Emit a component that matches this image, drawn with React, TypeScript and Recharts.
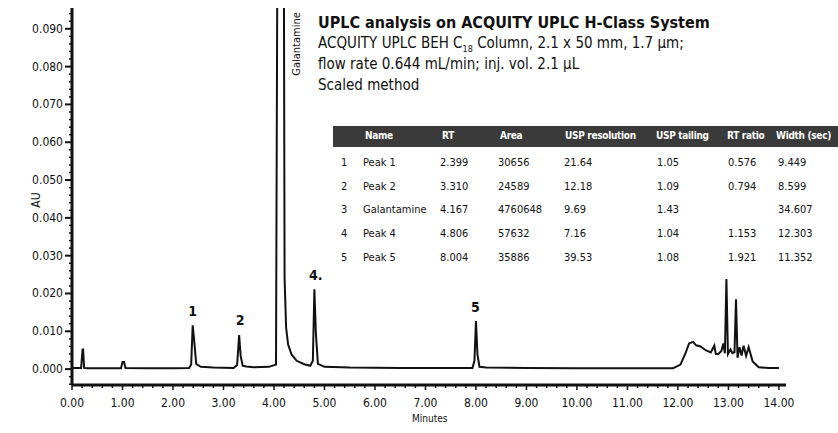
import React from 'react'
import { LineChart, Line, XAxis, YAxis, ReferenceDot } from 'recharts'

// chromatogram trace (minutes, AU)
const times = [
  0.0, 0.18, 0.21, 0.22, 0.24, 0.3, 0.6, 0.97, 1.0, 1.03, 1.06, 1.5, 2.0, 2.32, 2.36, 2.39, 2.42, 2.46,
  2.55, 2.8, 3.2, 3.27, 3.31, 3.34, 3.38, 3.45, 3.6, 3.9, 4.04, 4.09, 4.18, 4.21, 4.24, 4.28, 4.35,
  4.45, 4.6, 4.72, 4.77, 4.8, 4.83, 4.87, 5.0, 5.5, 6.5, 7.5, 7.93, 7.97, 8.0, 8.03, 8.07, 8.2, 9.0,
  10.0, 11.0, 11.9, 12.05, 12.15, 12.22, 12.3, 12.36, 12.45, 12.55, 12.65, 12.72, 12.75, 12.8, 12.86,
  12.9, 12.93, 12.96, 12.99, 13.04, 13.08, 13.12, 13.15, 13.18, 13.22, 13.26, 13.3, 13.35, 13.4, 13.48,
  13.6, 13.8, 14.0,
]
const absorbance = [
  0.0003, 0.0003, 0.0052, 0.0052, 0.0003, 0.0002, 0.0002, 0.0002, 0.0019, 0.0019, 0.0003, 0.0002, 0.0002, 0.0003, 0.0012, 0.0116, 0.0075, 0.0014,
  0.0006, 0.0004, 0.0003, 0.0011, 0.009, 0.0035, 0.0009, 0.0007, 0.0005, 0.0006, 0.0012, 0.2, 0.2, 0.024, 0.011, 0.0065, 0.0038,
  0.0022, 0.0013, 0.0009, 0.0022, 0.0211, 0.0095, 0.0014, 0.0006, 0.0004, 0.0003, 0.0003, 0.0003, 0.0022, 0.0127, 0.0038, 0.0006, 0.0004, 0.0003,
  0.0002, 0.0002, 0.0002, 0.0012, 0.0042, 0.0068, 0.0072, 0.0063, 0.006, 0.005, 0.0044, 0.0062, 0.004, 0.004, 0.0048,
  0.0068, 0.0042, 0.0238, 0.004, 0.0052, 0.0042, 0.0045, 0.0185, 0.003, 0.0058, 0.0036, 0.0062, 0.0035, 0.0058, 0.002,
  0.0005, 0.0003, 0.0003,
]
const data = times.map((t, i) => ({ t, au: absorbance[i] }))

const yMajorTicks = [0, 0.01, 0.02, 0.03, 0.04, 0.05, 0.06, 0.07, 0.08, 0.09]
const yMinorTicks = Array.from({ length: 50 }, (_, i) => Math.round((-0.004 + i * 0.002) * 1000) / 1000)
const xMajorTicks = [0, 1, 2, 3, 4, 5, 6, 7, 8, 9, 10, 11, 12, 13, 14]
const xMinorTicks = Array.from({ length: 71 }, (_, i) => Math.round(i * 0.2 * 10) / 10)

const peakLabels = ['1', '2', '4.', '5']
const peakLabelTimes = [2.39, 3.33, 4.83, 7.99]
const peakLabelLevels = [0.0153, 0.013, 0.0249, 0.0163]

// results table
const tableHeaders = ['Name', 'RT', 'Area', 'USP resolution', 'USP tailing', 'RT ratio', 'Width (sec)']
const peakNo = ['1', '2', '3', '4', '5']
const peakName = ['Peak 1', 'Peak 2', 'Galantamine', 'Peak 4', 'Peak 5']
const rt = ['2.399', '3.310', '4.167', '4.806', '8.004']
const area = ['30656', '24589', '4760648', '57632', '35886']
const uspRes = ['21.64', '12.18', '9.69', '7.16', '39.53']
const uspTail = ['1.05', '1.09', '1.43', '1.04', '1.08']
const rtRatio = ['0.576', '0.794', '', '1.153', '1.921']
const widthSec = ['9.449', '8.599', '34.607', '12.303', '11.352']

const narrow = "'Liberation Sans Narrow', 'DejaVu Sans Condensed', 'Noto Sans', sans-serif"
const ink = '#111'

const YTick = ({ x, y, payload }: any) => {
  const major = yMajorTicks.includes(payload.value)
  return (
    <g>
      <line x1={x} x2={x - (major ? 7 : 3)} y1={y} y2={y} stroke={ink} strokeWidth={major ? 2 : 1.5} />
      {major && (
        <text x={x - 9} y={y + 4} textAnchor="end" fontSize={12} fill={ink} fontFamily={narrow}>
          {payload.value.toFixed(3)}
        </text>
      )}
    </g>
  )
}

const XTick = ({ x, y, payload }: any) => {
  const major = xMajorTicks.includes(payload.value)
  return (
    <g>
      <line x1={x} x2={x} y1={y} y2={y + (major ? 5 : 3)} stroke={ink} strokeWidth={1.5} />
      {major && (
        <text x={x} y={y + 22} textAnchor="middle" fontSize={12} fill={ink} fontFamily={narrow}>
          {payload.value.toFixed(2)}
        </text>
      )}
    </g>
  )
}

const PeakLabel = (text: string) => (props: any) => (
  <text x={props.cx} y={props.cy + 5} textAnchor="middle" fontSize={14} fontWeight="bold" fill={ink} fontFamily={narrow}>
    {text}
  </text>
)

const GalantamineLabel = (props: any) => (
  <text
    x={props.cx}
    y={props.cy}
    transform={`rotate(-90 ${props.cx} ${props.cy})`}
    textAnchor="middle"
    dominantBaseline="middle"
    fontSize={11}
    fill={ink}
    fontFamily={narrow}
  >
    Galantamine
  </text>
)

const colLeft = [363, 440, 498, 564, 657, 728, 778]
const headLeft = [365, 442, 500, 565, 656, 727, 776]

export default function App() {
  const rows = peakNo.map((n, i) => [peakName[i], rt[i], area[i], uspRes[i], uspTail[i], rtRatio[i], widthSec[i]])
  return (
    <div style={{ position: 'absolute', left: 0, top: 0, width: 838, height: 433, background: '#fff', overflow: 'hidden' }}>
      <style>{'body{margin:0}'}</style>
      <LineChart width={838} height={433} data={data} margin={{ top: 8, right: 52, left: 12, bottom: 18 }}>
        <XAxis
          dataKey="t"
          type="number"
          domain={[0, 14.14]}
          ticks={xMinorTicks}
          interval={0}
          tick={<XTick />}
          tickLine={false}
          tickSize={0}
          tickMargin={0}
          axisLine={{ stroke: ink, strokeWidth: 3 }}
          height={30}
        />
        <YAxis
          type="number"
          domain={[-0.0042, 0.0955]}
          allowDataOverflow
          ticks={yMinorTicks}
          interval={0}
          tick={<YTick />}
          tickLine={false}
          tickSize={0}
          tickMargin={0}
          axisLine={{ stroke: ink, strokeWidth: 3 }}
          width={60}
        />
        <Line
          type="linear"
          dataKey="au"
          stroke={ink}
          strokeWidth={2}
          dot={false}
          isAnimationActive={false}
        />
        {peakLabels.map((l, i) => (
          <ReferenceDot key={l} x={peakLabelTimes[i]} y={peakLabelLevels[i]} r={0} shape={PeakLabel(l)} />
        ))}
        <ReferenceDot x={4.45} y={0.086} r={0} shape={GalantamineLabel} />
      </LineChart>

      <div style={{ position: 'absolute', left: 28, top: 193, fontFamily: narrow, fontSize: 12, color: ink, transform: 'rotate(-90deg)' }}>AU</div>
      <div style={{ position: 'absolute', left: 412, top: 413, fontFamily: narrow, fontSize: 10, color: ink }}>Minutes</div>

      <div style={{ position: 'absolute', left: 318, top: 12, fontFamily: narrow, color: ink, lineHeight: '21px' }}>
        <div style={{ fontSize: 16, fontWeight: 'bold' }}>UPLC analysis on ACQUITY UPLC H-Class System</div>
        <div style={{ fontSize: 15 }}>
          ACQUITY UPLC BEH C<sub style={{ fontSize: 9, lineHeight: 0 }}>18</sub> Column, 2.1 x 50 mm, 1.7 µm;
        </div>
        <div style={{ fontSize: 15 }}>flow rate 0.644 mL/min; inj. vol. 2.1 µL</div>
        <div style={{ fontSize: 15 }}>Scaled method</div>
      </div>

      <div style={{ position: 'absolute', left: 333, top: 126, width: 505, height: 21, background: '#3a3a3a' }} />
      {tableHeaders.map((h, j) => (
        <div
          key={h}
          style={{ position: 'absolute', left: headLeft[j], top: 130, fontFamily: narrow, fontSize: 10, fontWeight: 'bold', color: '#fff', whiteSpace: 'nowrap', letterSpacing: -0.3 }}
        >
          {h}
        </div>
      ))}
      {rows.map((r, i) => (
        <React.Fragment key={peakNo[i]}>
          <div style={{ position: 'absolute', left: 341, top: 156 + i * 23.7, fontFamily: narrow, fontSize: 11, color: ink }}>{peakNo[i]}</div>
          {r.map((v, j) => (
            <div
              key={j}
              style={{ position: 'absolute', left: colLeft[j], top: 156 + i * 23.7, fontFamily: narrow, fontSize: 11, color: ink, whiteSpace: 'nowrap' }}
            >
              {v}
            </div>
          ))}
        </React.Fragment>
      ))}
    </div>
  )
}
